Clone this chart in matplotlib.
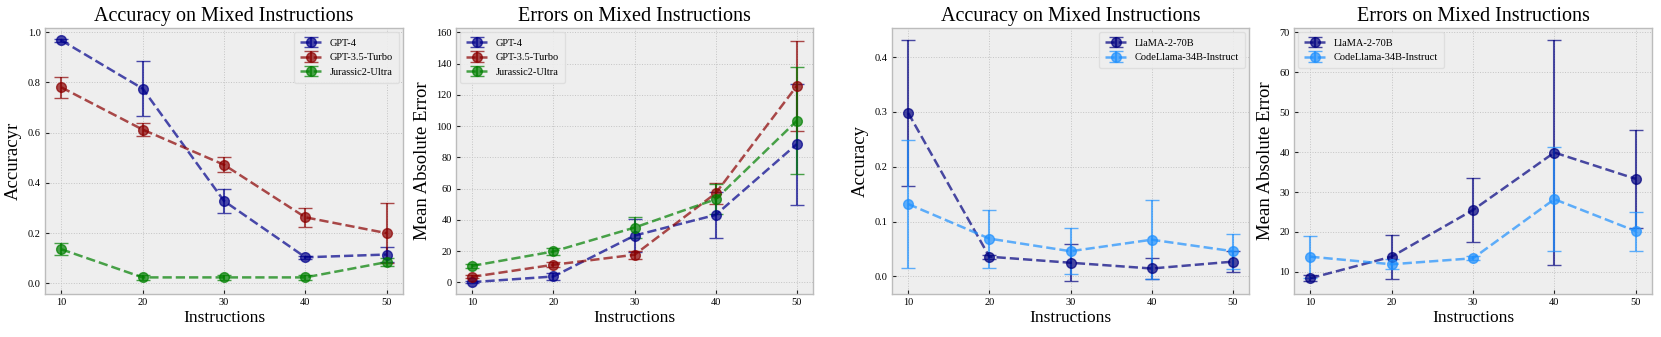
import matplotlib
matplotlib.use("Agg")
import matplotlib.pyplot as plt

instructions = [10, 20, 30, 40, 50]

# Panel 1: accuracy (closed models)
acc_gpt4 = [0.967, 0.775, 0.328, 0.104, 0.115]
acc_gpt4_err = [0.005, 0.111, 0.047, 0.006, 0.030]
acc_gpt35 = [0.780, 0.612, 0.472, 0.263, 0.200]
acc_gpt35_err = [0.041, 0.027, 0.029, 0.037, 0.119]
acc_jur = [0.136, 0.024, 0.024, 0.024, 0.085]
acc_jur_err = [0.024, 0.010, 0.010, 0.010, 0.015]

# Panel 2: MAE (closed models)
mae_gpt4 = [0.2, 3.8, 30.0, 43.2, 88.5]
mae_gpt4_err = [0.8, 2.5, 10.4, 14.5, 38.7]
mae_gpt35 = [3.6, 11.3, 17.7, 57.0, 125.7]
mae_gpt35_err = [1.0, 1.5, 2.5, 6.6, 29.0]
mae_jur = [10.6, 19.8, 35.1, 53.2, 103.4]
mae_jur_err = [1.2, 2.5, 6.6, 9.5, 34.3]

# Panel 3: accuracy (open models)
acc_llama = [0.298, 0.036, 0.025, 0.0145, 0.027]
acc_llama_err = [0.133, 0.004, 0.034, 0.020, 0.019]
acc_code = [0.132, 0.069, 0.046, 0.067, 0.046]
acc_code_err = [0.117, 0.053, 0.042, 0.072, 0.032]

# Panel 4: MAE (open models)
mae_llama = [8.4, 13.8, 25.5, 39.9, 33.3]
mae_llama_err = [0.8, 5.5, 7.9, 28.1, 12.3]
mae_code = [13.8, 11.9, 13.4, 28.2, 20.2]
mae_code_err = [5.3, 1.2, 0.5, 13.0, 4.9]

names_closed = ["GPT-4", "GPT-3.5-Turbo", "Jurassic2-Ultra"]
names_open = ["LlaMA-2-70B", "CodeLlama-34B-Instruct"]
colors_closed = ["darkblue", "darkred", "green"]
colors_open = ["navy", "dodgerblue"]

plt.rcParams["font.family"] = ["Liberation Serif", "DejaVu Serif"]
plt.rcParams["axes.facecolor"] = "#eeeeee"
plt.rcParams["axes.edgecolor"] = "#bcbcbc"

fig = plt.figure(figsize=(16.61, 3.37), dpi=100)
W, H = 1661.0, 337.0
top_px, bot_px = 28, 294
boxes = [(45, 403), (456, 813), (892, 1249), (1294, 1652)]
axes = [fig.add_axes([l / W, 1 - bot_px / H, (r - l) / W, (bot_px - top_px) / H]) for l, r in boxes]


def style(ax, title, ylabel, ylim, yticks):
    ax.set_title(title, fontsize=14.5, pad=5)
    ax.set_xlabel("Instructions", fontsize=12.5, labelpad=2)
    ax.set_ylabel(ylabel, fontsize=13.5, labelpad=4)
    ax.set_xticks(instructions)
    ax.set_yticks(yticks)
    ax.set_xlim(8, 52)
    ax.set_ylim(*ylim)
    ax.grid(True, color="#c4c4c4", linestyle=":", linewidth=0.7)
    ax.set_axisbelow(True)
    ax.tick_params(axis="both", labelsize=7.5, direction="in", length=3, width=0.8, color="#222222", pad=3)
    for s in ax.spines.values():
        s.set_linewidth(1.0)


def draw(ax, series, names, colors, loc):
    for (y, e), n, c in zip(series, names, colors):
        ax.errorbar(instructions, y, yerr=e, label=n, color=c, fmt="o--", markersize=7,
                    linewidth=1.8, capsize=5, elinewidth=1.5, alpha=0.7)
    ax.legend(loc=loc, fontsize=7.5, frameon=True, facecolor="#eeeeee",
              edgecolor="#dddddd", framealpha=0.9, borderpad=0.6, handlelength=2.0,
              borderaxespad=0.4)


draw(axes[0], [(acc_gpt4, acc_gpt4_err), (acc_gpt35, acc_gpt35_err), (acc_jur, acc_jur_err)],
     names_closed, colors_closed, "upper right")
style(axes[0], "Accuracy on Mixed Instructions", "Accuracyr", (-0.042, 1.016),
      [0.0, 0.2, 0.4, 0.6, 0.8, 1.0])

draw(axes[1], [(mae_gpt4, mae_gpt4_err), (mae_gpt35, mae_gpt35_err), (mae_jur, mae_jur_err)],
     names_closed, colors_closed, "upper left")
style(axes[1], "Errors on Mixed Instructions", "Mean Absolute Error", (-7.4, 162.8),
      [0, 20, 40, 60, 80, 100, 120, 140, 160])

draw(axes[2], [(acc_llama, acc_llama_err), (acc_code, acc_code_err)],
     names_open, colors_open, "upper right")
style(axes[2], "Accuracy on Mixed Instructions", "Accuracy", (-0.032, 0.453),
      [0.0, 0.1, 0.2, 0.3, 0.4])

draw(axes[3], [(mae_llama, mae_llama_err), (mae_code, mae_code_err)],
     names_open, colors_open, "upper left")
style(axes[3], "Errors on Mixed Instructions", "Mean Absolute Error", (4.45, 71.1),
      [10, 20, 30, 40, 50, 60, 70])

fig.savefig("out.png", dpi=100, facecolor="white")
